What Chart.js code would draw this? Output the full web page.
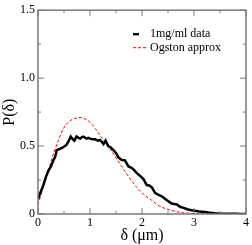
<!DOCTYPE html>
<html lang="en">
<head>
<meta charset="UTF-8"/>
<title>P(delta)</title>
<script src="https://cdn.jsdelivr.net/npm/chart.js@4.4.0/dist/chart.umd.min.js"></script>
<style>
  body{margin:0;background:#fff}
</style>
</head>
<body>
<canvas id="Chart" width="252" height="245"></canvas>
<script>
// measured distribution (black)
const deltaData = [0,0.05,0.10,0.15,0.20,0.25,0.29,0.33,0.36,0.42,0.48,0.55,0.58,0.63,0.67,0.70,0.74,0.78,0.81,0.84,0.87,0.91,0.94,0.97,1.0,1.05,1.10,1.15,1.19,1.23,1.26,1.30,1.35,1.40,1.45,1.50,1.54,1.60,1.64,1.67,1.74,1.80,1.83,1.88,1.93,1.98,2.03,2.09,2.14,2.19,2.25,2.30,2.35,2.40,2.44,2.50,2.57,2.62,2.67,2.73,2.80,2.87,2.95,3.02,3.10,3.21,3.30,3.40,3.50,3.60,3.70,3.80,3.90,4.0];
const pData = [0.11,0.16,0.21,0.27,0.32,0.35,0.39,0.42,0.47,0.48,0.49,0.51,0.53,0.57,0.55,0.54,0.57,0.56,0.555,0.565,0.57,0.56,0.555,0.56,0.555,0.55,0.55,0.54,0.545,0.53,0.515,0.54,0.50,0.49,0.47,0.45,0.42,0.40,0.395,0.395,0.35,0.34,0.33,0.31,0.29,0.275,0.256,0.213,0.21,0.196,0.156,0.145,0.136,0.125,0.113,0.095,0.077,0.073,0.07,0.053,0.045,0.035,0.028,0.024,0.018,0.015,0.01,0.005,0.003,0.002,0.001,0.001,0,0];

// Ogston approximation (red dashed)
const deltaOgston = [0,0.1,0.2,0.29,0.39,0.49,0.58,0.65,0.71,0.81,0.90,1.0,1.10,1.19,1.29,1.38,1.42,1.54,1.67,1.80,1.93,2.06,2.19,2.31,2.44,2.57,2.73,2.9,3.1,3.3,3.5,3.75,4.0];
const pOgston = [0.07,0.196,0.32,0.435,0.54,0.63,0.675,0.695,0.703,0.71,0.70,0.675,0.63,0.58,0.53,0.48,0.46,0.39,0.316,0.244,0.184,0.136,0.10,0.065,0.041,0.026,0.012,0.006,0.002,0.001,0,0,0];

const seriesNames = ['1mg/ml data', 'Ogston approx'];
const xTitle = 'δ (μm)';
const yTitle = 'P(δ)';

const SERIF = '"Liberation Serif", "DejaVu Serif", serif';
const FRAME = '#7a7a7a';

// inward ticks on all four sides + frame + legend
const framePlugin = {
  id: 'frame',
  afterDraw(chart) {
    const ctx = chart.ctx;
    const a = chart.chartArea;
    const xs = chart.scales.x, ys = chart.scales.y;
    ctx.save();
    ctx.strokeStyle = FRAME;
    ctx.lineWidth = 1.5;
    ctx.strokeRect(a.left, a.top, a.right - a.left, a.bottom - a.top);
    ctx.lineWidth = 1;
    ctx.beginPath();
    for (let v = xs.min; v <= xs.max + 1e-9; v += 0.5) {
      const px = xs.getPixelForValue(v);
      const len = Math.abs(v - Math.round(v)) < 1e-9 ? 6 : 3;
      ctx.moveTo(px, a.bottom); ctx.lineTo(px, a.bottom - len);
      ctx.moveTo(px, a.top); ctx.lineTo(px, a.top + len);
    }
    for (let v = ys.min; v <= ys.max + 1e-9; v += 0.25) {
      const py = ys.getPixelForValue(v);
      const len = Math.abs(v * 2 - Math.round(v * 2)) < 1e-9 ? 6 : 3;
      ctx.moveTo(a.left, py); ctx.lineTo(a.left + len, py);
      ctx.moveTo(a.right, py); ctx.lineTo(a.right - len, py);
    }
    ctx.stroke();

    // legend
    const lx = a.left + 95, ly = a.top + 24;
    ctx.lineWidth = 2.5;
    ctx.strokeStyle = '#000';
    ctx.beginPath(); ctx.moveTo(lx, ly); ctx.lineTo(lx + 6, ly); ctx.stroke();
    ctx.lineWidth = 1;
    ctx.strokeStyle = '#ff0000';
    ctx.setLineDash([3, 2]);
    ctx.beginPath(); ctx.moveTo(lx, ly + 13.5); ctx.lineTo(lx + 13, ly + 13.5); ctx.stroke();
    ctx.setLineDash([]);
    ctx.fillStyle = '#000';
    ctx.font = '12px ' + SERIF;
    ctx.textBaseline = 'middle';
    ctx.fillText(seriesNames[0], lx + 17, ly);
    ctx.fillText(seriesNames[1], lx + 17, ly + 13.5);
    ctx.restore();
  }
};

const ctx = document.getElementById('Chart').getContext('2d');
new Chart(ctx, {
  type: 'line',
  data: {
    datasets: [
      {
        label: seriesNames[0],
        data: deltaData.map((d, i) => ({x: d, y: pData[i]})),
        borderColor: '#000',
        borderWidth: 2.5,
        pointRadius: 0,
        tension: 0,
        fill: false
      },
      {
        label: seriesNames[1],
        data: deltaOgston.map((d, i) => ({x: d, y: pOgston[i]})),
        borderColor: '#ff0000',
        borderWidth: 1,
        borderDash: [3, 2],
        pointRadius: 0,
        cubicInterpolationMode: 'monotone',
        fill: false
      }
    ]
  },
  options: {
    responsive: false,
    animation: false,
    layout: {padding: {top: 5, right: 6}},
    plugins: {legend: {display: false}, tooltip: {enabled: false}},
    scales: {
      x: {
        type: 'linear',
        min: 0, max: 4,
        grid: {display: false, drawTicks: false},
        border: {display: false},
        ticks: {stepSize: 1, padding: 2, color: '#000', font: {family: SERIF, size: 12}},
        title: {display: true, text: xTitle, color: '#000', padding: 0, font: {family: SERIF, size: 16}},
        afterFit(s) { s.height = 31; }
      },
      y: {
        min: 0, max: 1.5,
        grid: {display: false, drawTicks: false},
        border: {display: false},
        ticks: {stepSize: 0.5, padding: 3, color: '#000', font: {family: SERIF, size: 12}},
        title: {display: true, text: yTitle, color: '#000', padding: 0, font: {family: SERIF, size: 16}},
        afterFit(s) { s.width = 38; }
      }
    }
  },
  plugins: [framePlugin]
});
</script>
</body>
</html>
